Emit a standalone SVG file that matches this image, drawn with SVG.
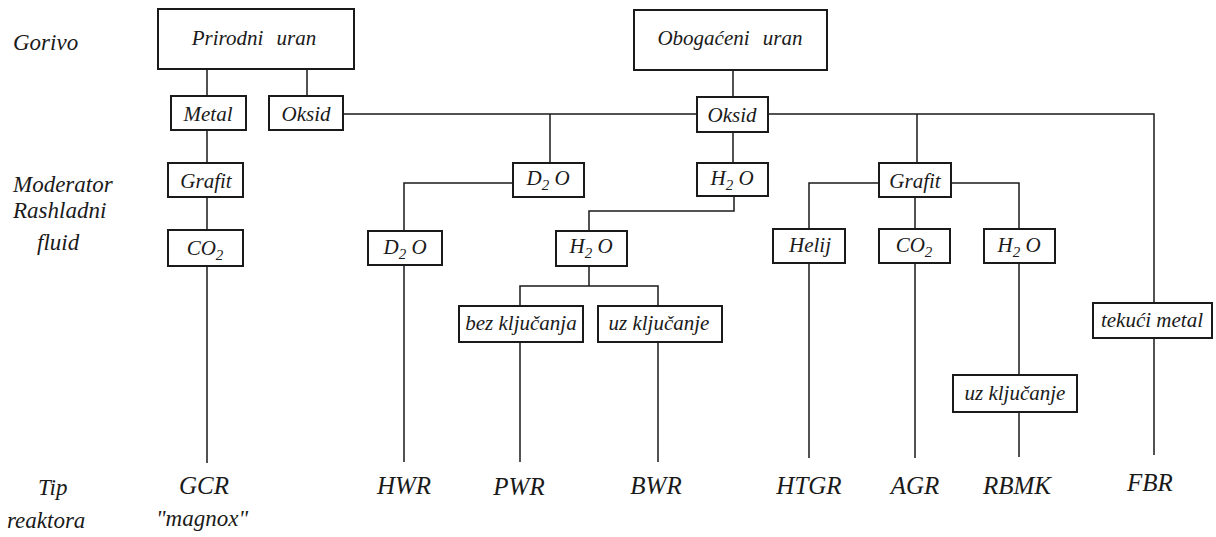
<svg xmlns="http://www.w3.org/2000/svg" width="1216" height="537" viewBox="0 0 1216 537" font-family="'Liberation Serif', 'DejaVu Serif', serif" font-style="italic">
<style>
text{font-family:'Liberation Serif','DejaVu Serif',serif;font-style:italic;fill:#1a1a1a}
.side{font-size:23px}
.lbl{font-size:21px;text-anchor:middle}
.big{font-size:21px;text-anchor:middle;word-spacing:8px}
.typ{font-size:25px;text-anchor:middle}
.sub{font-size:15px}
rect{fill:#fff;stroke:#1a1a1a;stroke-width:2}
#connectors path{fill:none;stroke:#1a1a1a;stroke-width:1.5}
</style>
<rect x="0" y="0" width="1216" height="537" style="fill:#fff;stroke:none"/>
<g id="connectors">
<path d="M207 69V96M307 69V96M207 130V163M207 197V230M207 266V463"/>
<path d="M733 70V97M343 114H697M768 114H1154V303M550 114V163M917 114V163M733 132V163"/>
<path d="M513 183H404V231M404 265V462"/>
<path d="M734 196V211H589V231M589 266V286M520 306V286H658V306M520 342V462M658 342V462"/>
<path d="M879 183H809V229M951 183H1019V229M915 197V229M809 263V458M915 263V458M1019 263V375M1019 412V457M1154 338V455"/>
</g>
<g id="side-labels">
<text class="side" x="13" y="50">Gorivo</text>
<text class="side" x="13" y="192">Moderator</text>
<text class="side" x="13" y="218">Rashladni</text>
<text class="side" x="37" y="250">fluid</text>
<text class="side" x="38" y="495">Tip</text>
<text class="side" x="7" y="528">reaktora</text>
</g>
<g id="n-prirodni"><rect x="158" y="9" width="196" height="60"/><text class="big" x="254" y="45">Prirodni uran</text></g>
<g id="n-obogaceni"><rect x="634" y="10" width="193" height="60"/><text class="big" x="730" y="45">Obogaćeni uran</text></g>
<g id="n-metal"><rect x="171" y="96" width="75" height="34"/><text class="lbl" x="208" y="121">Metal</text></g>
<g id="n-oksid1"><rect x="269" y="96" width="74" height="34"/><text class="lbl" x="306" y="121">Oksid</text></g>
<g id="n-oksid2"><rect x="697" y="97" width="71" height="35"/><text class="lbl" x="732" y="122">Oksid</text></g>
<g id="n-grafit1"><rect x="168" y="163" width="75" height="34"/><text class="lbl" x="206" y="188">Grafit</text></g>
<g id="n-d2o-mod"><rect x="513" y="163" width="71" height="34"/><text class="lbl" x="548" y="185">D<tspan class="sub" dy="5">2</tspan><tspan dy="-5"> O</tspan></text></g>
<g id="n-h2o-mod"><rect x="697" y="163" width="71" height="33"/><text class="lbl" x="732" y="185">H<tspan class="sub" dy="5">2</tspan><tspan dy="-5"> O</tspan></text></g>
<g id="n-grafit2"><rect x="879" y="163" width="72" height="34"/><text class="lbl" x="915" y="188">Grafit</text></g>
<g id="n-co2-1"><rect x="168" y="230" width="75" height="36"/><text class="lbl" x="205" y="255">CO<tspan class="sub" dy="5">2</tspan></text></g>
<g id="n-d2o-cool"><rect x="368" y="231" width="74" height="34"/><text class="lbl" x="405" y="254">D<tspan class="sub" dy="5">2</tspan><tspan dy="-5"> O</tspan></text></g>
<g id="n-h2o-cool"><rect x="556" y="231" width="71" height="35"/><text class="lbl" x="591" y="253">H<tspan class="sub" dy="5">2</tspan><tspan dy="-5"> O</tspan></text></g>
<g id="n-helij"><rect x="773" y="229" width="72" height="34"/><text class="lbl" x="810" y="252">Helij</text></g>
<g id="n-co2-2"><rect x="879" y="229" width="71" height="34"/><text class="lbl" x="914" y="252">CO<tspan class="sub" dy="5">2</tspan></text></g>
<g id="n-h2o-2"><rect x="984" y="229" width="71" height="34"/><text class="lbl" x="1019" y="252">H<tspan class="sub" dy="5">2</tspan><tspan dy="-5"> O</tspan></text></g>
<g id="n-bez"><rect x="459" y="306" width="124" height="36"/><text class="lbl" x="521" y="330">bez ključanja</text></g>
<g id="n-uz1"><rect x="598" y="306" width="124" height="36"/><text class="lbl" x="659" y="330">uz ključanje</text></g>
<g id="n-tekuci"><rect x="1093" y="303" width="119" height="35"/><text class="lbl" x="1152" y="327">tekući metal</text></g>
<g id="n-uz2"><rect x="953" y="375" width="124" height="37"/><text class="lbl" x="1015" y="400">uz ključanje</text></g>
<g id="types">
<g id="t-gcr"><text class="typ" x="204" y="494">GCR</text><text class="side" x="202" y="526" text-anchor="middle">"magnox"</text></g>
<g id="t-hwr"><text class="typ" x="404" y="494">HWR</text></g>
<g id="t-pwr"><text class="typ" x="519" y="495">PWR</text></g>
<g id="t-bwr"><text class="typ" x="656" y="494">BWR</text></g>
<g id="t-htgr"><text class="typ" x="809" y="494">HTGR</text></g>
<g id="t-agr"><text class="typ" x="915" y="494">AGR</text></g>
<g id="t-rbmk"><text class="typ" x="1017" y="494">RBMK</text></g>
<g id="t-fbr"><text class="typ" x="1150" y="491">FBR</text></g>
</g>
</svg>
